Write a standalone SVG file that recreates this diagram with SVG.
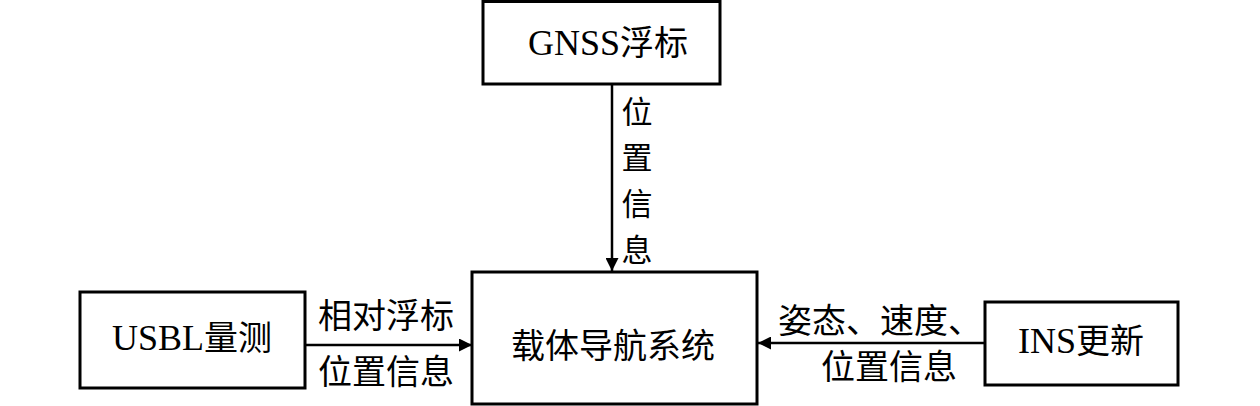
<svg xmlns="http://www.w3.org/2000/svg" width="1260" height="406" viewBox="0 0 1260 406">
<style>
.box{fill:#fff;stroke:#000;stroke-width:3}
.t{font-family:"Liberation Serif","Noto Sans CJK SC",serif;font-size:36px;fill:#000}
.c{font-family:"Noto Sans CJK SC","Liberation Serif",sans-serif;font-size:34px;fill:#000}
.v{font-family:"Noto Sans CJK SC","Liberation Serif",sans-serif;font-size:31px;fill:#000}
.ln{stroke:#000;stroke-width:2.5;fill:none}
</style>
<defs>
<marker id="ah" viewBox="0 0 10 10" refX="10" refY="5" markerWidth="13" markerHeight="13" markerUnits="userSpaceOnUse" orient="auto">
<path d="M0,0 L10,5 L0,10 z" fill="#000"/>
</marker>
</defs>
<rect width="1260" height="406" fill="#fff"/>
<g id="connectors">
<line class="ln" x1="612" y1="84" x2="612" y2="271" marker-end="url(#ah)"/>
<line class="ln" x1="305" y1="345" x2="472" y2="345" marker-end="url(#ah)"/>
<line class="ln" x1="985" y1="343" x2="758" y2="343" marker-end="url(#ah)"/>
<g class="v" text-anchor="middle">
<text x="637" y="123">位</text>
<text x="637" y="169">置</text>
<text x="637" y="215">信</text>
<text x="637" y="261">息</text>
</g>
<g class="c" text-anchor="middle">
<text x="386" y="328">相对浮标</text>
<text x="386" y="384">位置信息</text>
<text x="880" y="333">姿态、速度、</text>
<text x="889" y="379">位置信息</text>
</g>
</g>
<g id="gnss">
<rect class="box" x="483" y="1.5" width="237" height="82.5"/>
<text class="t" x="608" y="55" text-anchor="middle">GNSS<tspan class="c">浮标</tspan></text>
</g>
<g id="nav">
<rect class="box" x="472" y="272" width="285" height="132"/>
<text class="c" x="613" y="358" text-anchor="middle">载体导航系统</text>
</g>
<g id="usbl">
<rect class="box" x="80" y="292" width="225" height="96"/>
<text class="t" x="192" y="350" text-anchor="middle">USBL<tspan class="c">量测</tspan></text>
</g>
<g id="ins">
<rect class="box" x="985" y="302" width="193" height="83"/>
<text class="t" x="1081" y="353" text-anchor="middle">INS<tspan class="c">更新</tspan></text>
</g>
</svg>
